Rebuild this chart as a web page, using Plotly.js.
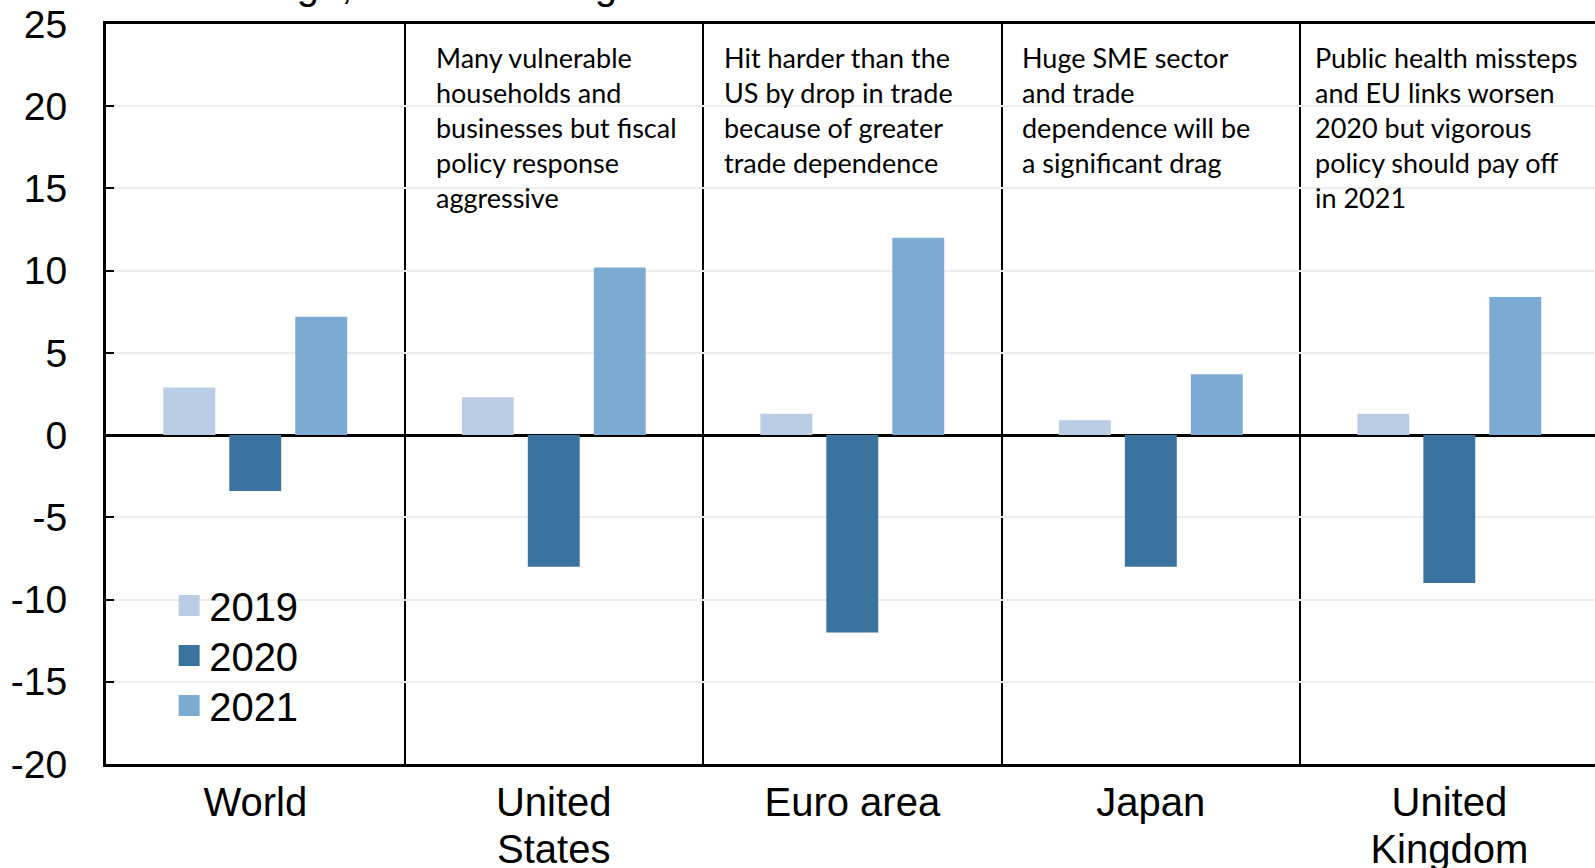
<!DOCTYPE html>
<html>
<head>
<meta charset="utf-8">
<script src="https://cdn.plot.ly/plotly-3.0.1.min.js"></script>
<style>
  html, body { margin: 0; padding: 0; background: #ffffff; }
  #chart { width: 1595px; height: 868px; }
</style>
</head>
<body>
<div id="chart"></div>
<script>
// ---- data ----
var categories = ["World", "United<br>States", "Euro area", "Japan", "United<br>Kingdom"];
var years = ["2019", "2020", "2021"];
var values2019 = [2.9, 2.3, 1.3, 0.9, 1.3];
var values2020 = [-3.4, -8.0, -12.0, -8.0, -9.0];
var values2021 = [7.2, 10.2, 12.0, 3.7, 8.4];
var notes = [
  "",
  "Many vulnerable<br>households and<br>businesses but fiscal<br>policy response<br>aggressive",
  "Hit harder than the<br>US by drop in trade<br>because of greater<br>trade dependence",
  "Huge SME sector<br>and trade<br>dependence will be<br>a significant drag",
  "Public health missteps<br>and EU links worsen<br>2020 but vigorous<br>policy should pay off<br>in 2021"
];
var titleText = "Percent change, annual average";
var yTicks = [-20, -15, -10, -5, 0, 5, 10, 15, 20, 25];

// ---- styles ----
var colors = ["#b9cde5", "#3a72a0", "#7babd3"];
var seriesValues = [values2019, values2020, values2021];
var FONT = "Liberation Sans, Arial, sans-serif";

var traces = years.map(function (yr, i) {
  return {
    type: "bar",
    name: yr,
    x: categories,
    y: seriesValues[i],
    marker: { color: colors[i], line: { width: 0 } },
    hoverinfo: "x+y+name"
  };
});

var noteOffsetsPx = [0, 29, 19, 18, 13]; // text offset from category's left boundary
var catWidthPx = 298.5;
var annotations = [];
notes.forEach(function (t, i) {
  if (!t) return;
  annotations.push({
    xref: "x", yref: "y",
    x: i - 0.5 + noteOffsetsPx[i] / catWidthPx,
    y: 24.07,
    xanchor: "left", yanchor: "top",
    align: "left",
    text: t,
    showarrow: false,
    font: { family: "Lato, Carlito, Calibri, sans-serif", size: 27, color: "#000000" }
  });
});
annotations.push({
  xref: "paper", yref: "paper",
  x: -0.0316, y: 1.0196,
  xanchor: "left", yanchor: "bottom",
  text: titleText,
  showarrow: false,
  font: { family: FONT, size: 40, color: "#000000" }
});

var layout = {
  width: 1595,
  height: 868,
  margin: { l: 106, r: 0, t: 23.5, b: 104, pad: 0 },
  paper_bgcolor: "#ffffff",
  plot_bgcolor: "#ffffff",
  barmode: "group",
  bargap: 0.337,
  bargroupgap: 0.213,
  showlegend: true,
  legend: {
    x: 0.0424, y: 0.258, xanchor: "left", yanchor: "top",
    bgcolor: "rgba(0,0,0,0)", borderwidth: 0,
    font: { family: FONT, size: 40, color: "#000000" },
    traceorder: "normal",
    tracegroupgap: 0
  },
  xaxis: {
    type: "category",
    range: [-0.5, 4.488],
    tickson: "boundaries",
    showgrid: true,
    gridcolor: "#000000",
    gridwidth: 2,
    showline: true,
    linecolor: "#000000",
    linewidth: 3,
    mirror: true,
    ticks: "",
    tickfont: { family: FONT, size: 40, color: "#000000" },
    ticklabelstandoff: 1,
    fixedrange: true
  },
  yaxis: {
    range: [-20, 25],
    tickvals: yTicks,
    ticktext: yTicks.map(String),
    showgrid: true,
    gridcolor: "#ededed",
    gridwidth: 2,
    zeroline: true,
    zerolinecolor: "#000000",
    zerolinewidth: 3,
    showline: true,
    linecolor: "#000000",
    linewidth: 3,
    ticks: "inside",
    ticklen: 8,
    tickwidth: 2,
    tickcolor: "#000000",
    tickfont: { family: FONT, size: 39, color: "#000000" },
    ticklabelstandoff: 28,
    fixedrange: true
  },
  annotations: annotations,
  font: { family: FONT, color: "#000000" }
};

Plotly.newPlot("chart", traces, layout, { displayModeBar: false, staticPlot: true }).then(function (gd) {
  // larger square legend swatches
  gd.querySelectorAll(".legendpoints path").forEach(function (p) {
    p.setAttribute("d", "M10.5,10.5H-10.5V-10.5H10.5Z");
  });
  // tighter legend item spacing
  var base = null;
  gd.querySelectorAll(".legend .traces").forEach(function (g, i) {
    var t = g.getAttribute("transform") || "";
    var m = /translate\(\s*([-\d.e]+)[ ,]+([-\d.e]+)\s*\)/.exec(t);
    if (m) {
      if (base === null) base = parseFloat(m[2]);
      g.setAttribute("transform", "translate(" + m[1] + "," + (base + 50 * i) + ")");
    }
  });
  // tighter line spacing for two-line category labels
  gd.querySelectorAll(".xtick text tspan.line").forEach(function (s) {
    if (s.getAttribute("dy") === "1.3em") s.setAttribute("dy", "1.17em");
  });
});
</script>
</body>
</html>
